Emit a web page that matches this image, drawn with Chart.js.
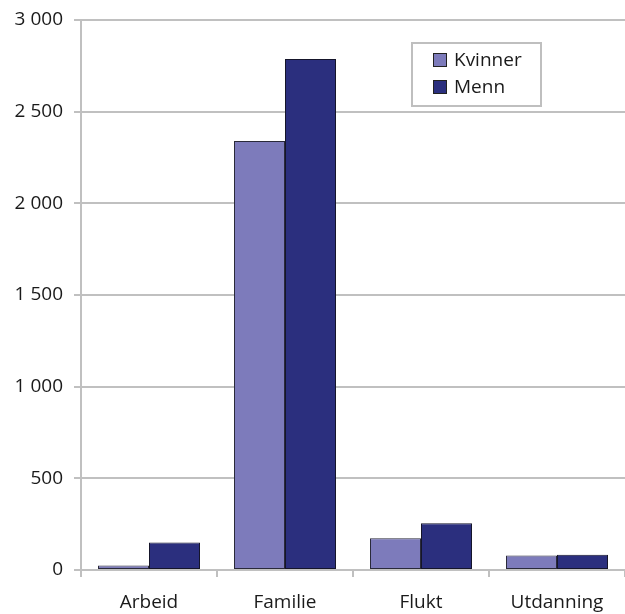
<!DOCTYPE html>
<html>
<head>
<meta charset="utf-8">
<script src="https://cdn.jsdelivr.net/npm/chart.js@4/dist/chart.umd.min.js"></script>
<style>
  html, body { margin:0; padding:0; background:#fff; }
  #wrap { width:625px; height:614px; position:relative; }
</style>
</head>
<body>
<div id="wrap"><canvas id="chart"></canvas></div>
<script>
// Data
const categories = ['Arbeid', 'Familie', 'Flukt', 'Utdanning'];
const kvinner = [25, 2340, 173, 79];
const menn = [150, 2787, 255, 83];
const seriesNames = ['Kvinner', 'Menn'];

const FONT = '"Open Sans", "Noto Sans", sans-serif';

// boxed legend drawn inside the plot area, top right
const boxLegend = {
    id: 'boxLegend',
    afterDraw(chart, args, opts) {
        const ctx = chart.ctx;
        ctx.save();
        ctx.strokeStyle = '#bfbfbf';
        ctx.lineWidth = 2;
        ctx.strokeRect(opts.x, opts.y, opts.w, opts.h);
        ctx.font = '19px ' + FONT;
        ctx.textBaseline = 'middle';
        chart.data.datasets.forEach((ds, i) => {
            const cy = opts.y + opts.firstRow + i * opts.rowGap;
            ctx.fillStyle = ds.backgroundColor;
            ctx.fillRect(opts.x + 21, cy - 7, 14, 14);
            ctx.strokeStyle = '#222';
            ctx.lineWidth = 1;
            ctx.strokeRect(opts.x + 21.5, cy - 6.5, 13, 13);
            ctx.fillStyle = '#1a1a1a';
            ctx.fillText(ds.label, opts.x + 42, cy + 1);
        });
        ctx.restore();
    }
};

new Chart(document.getElementById('chart'), {
    type: 'bar',
    data: {
        labels: categories,
        datasets: [
            { label: seriesNames[0], data: kvinner, backgroundColor: '#7d7bbb', borderColor: '#2a2a3a', borderWidth: 1, borderSkipped: false },
            { label: seriesNames[1], data: menn, backgroundColor: '#2b2f7e', borderColor: '#15152a', borderWidth: 1, borderSkipped: false }
        ]
    },
    options: {
        responsive: true, maintainAspectRatio: false,
        animation: false,
        layout: { padding: { top: 20, right: -3, left: 0, bottom: 0 } },
        datasets: { bar: { categoryPercentage: 0.75, barPercentage: 1.0 } },
        scales: {
            x: {
                grid: { display: true, drawOnChartArea: false, drawTicks: true, tickLength: 7, color: '#c0c0c0', lineWidth: 2, offset: true },
                border: { display: true, color: '#c0c0c0', width: 2 },
                ticks: { color: '#1a1a1a', font: { family: FONT, size: 19 }, padding: 14, maxRotation: 0 },
                afterFit(scale) { scale.height = 44; }
            },
            y: {
                min: 0, max: 3000,
                grid: { color: '#c0c0c0', lineWidth: 2, tickLength: 7 },
                border: { display: true, color: '#c0c0c0', width: 2 },
                ticks: {
                    stepSize: 500, padding: 11, color: '#1a1a1a',
                    font: { family: FONT, size: 19, lineHeight: 0.8 },
                    callback: v => v >= 1000 ? Math.floor(v / 1000) + ' ' + String(v % 1000).padStart(3, '0') : String(v)
                },
                afterFit(scale) { scale.width = 81; scale.paddingTop = 0; }
            }
        },
        plugins: {
            legend: { display: false },
            tooltip: { enabled: false },
            boxLegend: { x: 412, y: 43, w: 129, h: 63, firstRow: 17, rowGap: 27 }
        }
    },
    plugins: [boxLegend]
});
</script>
</body>
</html>
